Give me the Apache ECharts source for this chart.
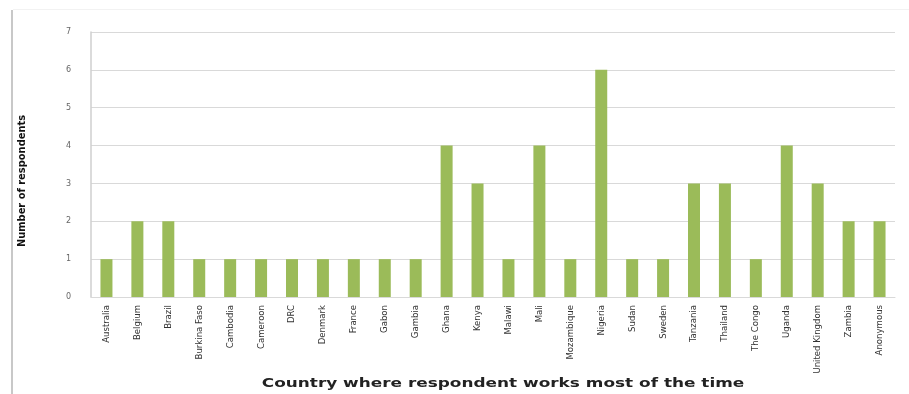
<!DOCTYPE html>
<html><head><meta charset="utf-8">
<script src="https://cdn.jsdelivr.net/npm/echarts@6/dist/echarts.min.js"></script>
<style>html,body{margin:0;padding:0;background:#fff}#c{width:909px;height:394px;position:relative}
#bl{position:absolute;left:11px;top:10px;width:2px;height:384px;background:#c8c8c8}
#bt{position:absolute;left:13px;top:9px;width:896px;height:1px;background:#f2f2f2}</style>
</head><body><div id="c"></div><div id="bl"></div><div id="bt"></div>
<script>
var categories = ["Australia","Belgium","Brazil","Burkina Faso","Cambodia","Cameroon","DRC","Denmark","France","Gabon","Gambia","Ghana","Kenya","Malawi","Mali","Mozambique","Nigeria","Sudan","Sweden","Tanzania","Thailand","The Congo","Uganda","United Kingdom","Zambia","Anonymous"];
var values = [1,2,2,1,1,1,1,1,1,1,1,4,3,1,4,1,6,1,1,3,3,1,4,3,2,2];
var yTitle = 'Number of respondents';
var xTitle = 'Country where respondent works most of the time';
var chart = echarts.init(document.getElementById('c'));
chart.setOption({
  animation:false,
  grid:{left:91,right:14,top:32,bottom:97,containLabel:false,outerBoundsMode:'none'},
  graphic:[{type:'text',x:22,y:181,rotation:Math.PI/2,
    style:{text:yTitle,fontSize:11,fontWeight:'bold',fill:'#111',align:'center',verticalAlign:'middle',
      fontFamily:'Liberation Sans Narrow, DejaVu Sans Condensed, sans-serif'}},
    {type:'text',x:503,y:384,scaleX:1.3,
    style:{text:xTitle,fontSize:13,fontWeight:'bold',fill:'#222',align:'center',verticalAlign:'middle',
      fontFamily:'DejaVu Sans, sans-serif'}}],
  xAxis:{type:'category',data:categories,
    axisLine:{show:true,lineStyle:{color:'#d9d9d9',width:1}},
    axisTick:{show:false},
    axisLabel:{rotate:90,interval:0,fontSize:9.5,color:'#333',fontFamily:'Liberation Sans Narrow, DejaVu Sans Condensed, sans-serif',margin:8}},
  yAxis:{type:'value',min:0,max:7,interval:1,
    axisLine:{show:true,lineStyle:{color:'#cfcfcf',width:1.5}},
    axisTick:{show:false},
    splitLine:{lineStyle:{color:'#d9d9d9',width:1}},
    axisLabel:{fontSize:8,color:'#666',margin:20,fontFamily:'DejaVu Sans, sans-serif'}},
  series:[{type:'bar',data:values,barWidth:12,itemStyle:{color:'#9BBB59'}}]
});
</script></body></html>
